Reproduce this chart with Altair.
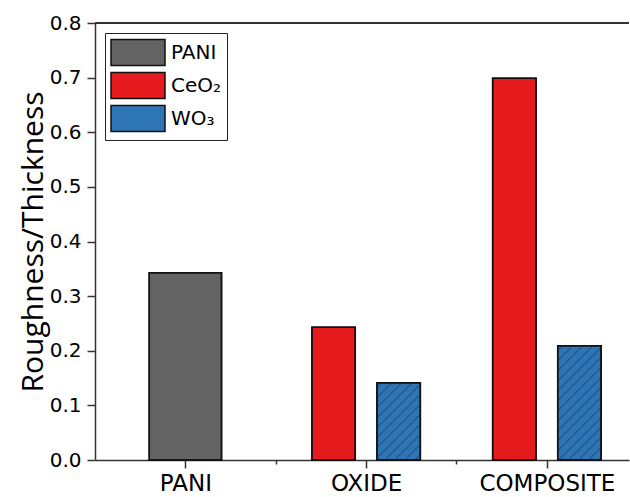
import json
import altair as alt
import pandas as pd

# ---------------- data ----------------
categories = ["PANI", "OXIDE", "COMPOSITE"]
series_names = ["PANI", "CeO₂", "WO₃"]
series_colors = ["#636363", "#e51a1c", "#2e75b6"]
pani_values = [0.343, None, None]
ceo2_values = [None, 0.243, 0.699]
wo3_values = [None, 0.1415, 0.209]

# ---------------- layout constants ----------------
PLOT_W, PLOT_H = 534, 437
X_MIN, X_MAX = -0.5, -0.5 + PLOT_W / 180.75
Y_MIN, Y_MAX = 0.0, 0.8
BAR_W_SINGLE, BAR_W_PAIR, PAIR_SEP = 0.40, 0.24, 0.36
HATCH_STEP_PX = 10.0

px_x = PLOT_W / (X_MAX - X_MIN)
px_y = PLOT_H / (Y_MAX - Y_MIN)

rows = []
all_series = [pani_values, ceo2_values, wo3_values]
for ci, cat in enumerate(categories):
    present = [(s, vals[ci]) for s, vals in zip(series_names, all_series) if vals[ci] is not None]
    if len(present) == 1:
        offs, w = [0.0], BAR_W_SINGLE
    else:
        offs, w = [-PAIR_SEP / 2, PAIR_SEP / 2], BAR_W_PAIR
    for (s, v), o in zip(present, offs):
        rows.append({"category": cat, "series": s, "value": v,
                     "x0": ci + o - w / 2, "x1": ci + o + w / 2})
bars = pd.DataFrame(rows)

# hatch lines (45 deg in pixel space) clipped to each WO3 bar
hatch = []
for r in rows:
    if r["series"] != "WO₃":
        continue
    W = (r["x1"] - r["x0"]) * px_x
    H = r["value"] * px_y
    c = -H + HATCH_STEP_PX / 2
    while c < W:
        u0, u1 = max(0.0, c), min(W, H + c)
        if u1 > u0:
            hatch.append({"hx0": r["x0"] + u0 / px_x, "hy0": (u0 - c) / px_y,
                          "hx1": r["x0"] + u1 / px_x, "hy1": (u1 - c) / px_y})
        c += HATCH_STEP_PX
hatch_df = pd.DataFrame(hatch)

y_ticks = [round(i * 0.05, 2) for i in range(17)]
x_ticks = [0, 0.5, 1, 1.5, 2]

FONT = "DejaVu Sans"
xs = alt.Scale(domain=[X_MIN, X_MAX], nice=False, zero=False)
ys = alt.Scale(domain=[Y_MIN, Y_MAX], nice=False, zero=False)

x_axis = alt.Axis(
    values=x_ticks, title=None, grid=False,
    labelExpr="datum.value % 1 == 0 ? " + json.dumps(categories) + "[datum.value] : ''",
    tickSize={"condition": {"test": "datum.value % 1 == 0", "value": 8}, "value": 4},
    labelFontSize=23, labelPadding=4, labelFont=FONT, labelColor="black",
    labelFlush=False,
)
y_axis = alt.Axis(
    values=y_ticks, title="Roughness/Thickness", grid=False,
    labelExpr="abs(datum.value*10 - round(datum.value*10)) < 0.001 ? format(datum.value, '.1f') : ''",
    tickSize={"condition": {"test": "abs(datum.value*10 - round(datum.value*10)) < 0.001", "value": 8}, "value": 4},
    labelFontSize=20, labelPadding=6, labelFont=FONT, labelColor="black",
    titleFont="Open Sans", titleFontSize=30, titleFontWeight="normal", titleColor="black",
    titleX=-62, titleY=PLOT_H / 2, titleAlign="center", titleBaseline="middle", titleAngle=270,
    labelFlush=False,
)

bar_layer = alt.Chart(bars).mark_bar(stroke="#111111", strokeWidth=1.5, opacity=1).encode(
    x=alt.X("x0:Q", scale=xs, axis=x_axis),
    x2="x1:Q",
    y=alt.Y("value:Q", scale=ys, axis=y_axis),
    y2=alt.datum(0),
    color=alt.Color("series:N",
                    scale=alt.Scale(domain=series_names, range=series_colors),
                    legend=alt.Legend(
                        title=None, orient="none", legendX=10, legendY=10,
                        symbolType="M-1,-0.963H3V0.963H-1Z", symbolSize=729,
                        symbolStrokeColor="#111111", symbolStrokeWidth=1.5, symbolOpacity=1,
                        labelFont=FONT, labelFontSize=20, labelColor="black",
                        labelOffset=32, rowPadding=0, padding=5,
                        strokeColor="#222222", fillColor="white",
                    )),
)

hatch_layer = alt.Chart(hatch_df).mark_rule(color="#173a63", strokeWidth=0.9).encode(
    x=alt.X("hx0:Q", scale=xs), y=alt.Y("hy0:Q", scale=ys),
    x2="hx1:Q", y2="hy1:Q",
)

outline_layer = alt.Chart(bars).mark_bar(fillOpacity=0, stroke="#111111", strokeWidth=1.5).encode(
    x=alt.X("x0:Q", scale=xs), x2="x1:Q",
    y=alt.Y("value:Q", scale=ys), y2=alt.datum(0),
)

top_line = alt.Chart(bars).mark_rule(color="#333333", strokeWidth=1.5).encode(
    y=alt.datum(Y_MAX)
)

chart = alt.layer(bar_layer, hatch_layer, outline_layer, top_line).properties(
    width=PLOT_W, height=PLOT_H,
    autosize=alt.AutoSizeParams(type="none"),
    padding={"left": 95, "top": 23, "right": 1, "bottom": 37},
).configure_view(stroke=None).configure_axis(
    domainColor="#333333", domainWidth=1.5, tickColor="#333333", tickWidth=1.5,
)

chart.save("out.html", embed_options={"renderer": "svg", "actions": False})
